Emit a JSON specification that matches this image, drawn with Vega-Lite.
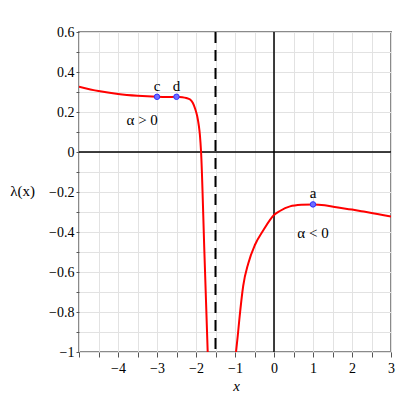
{
  "$schema": "https://vega.github.io/schema/vega-lite/v6.json",
  "autosize": "none",
  "width": 312,
  "height": 320,
  "padding": {"left": 79, "top": 32, "right": 9, "bottom": 48},
  "background": "white",
  "config": {
    "view": {"stroke": "#8a8a8a", "strokeWidth": 2},
    "font": "Liberation Serif",
    "axis": {"labelFont": "Liberation Serif", "titleFont": "Liberation Serif", "labelColor": "#000", "titleColor": "#000", "titleFontWeight": "normal"}
  },
  "datasets": {
    "curve": [
      {"branch": "L", "x": -5.0, "y": 0.327},
      {"branch": "L", "x": -4.5, "y": 0.305},
      {"branch": "L", "x": -4.0, "y": 0.29},
      {"branch": "L", "x": -3.5, "y": 0.281},
      {"branch": "L", "x": -3.0, "y": 0.276},
      {"branch": "L", "x": -2.75, "y": 0.275},
      {"branch": "L", "x": -2.5, "y": 0.276},
      {"branch": "L", "x": -2.35, "y": 0.274},
      {"branch": "L", "x": -2.25, "y": 0.27},
      {"branch": "L", "x": -2.15, "y": 0.262},
      {"branch": "L", "x": -2.08, "y": 0.245},
      {"branch": "L", "x": -2.02, "y": 0.215},
      {"branch": "L", "x": -1.97, "y": 0.18},
      {"branch": "L", "x": -1.93, "y": 0.135},
      {"branch": "L", "x": -1.9, "y": 0.085},
      {"branch": "L", "x": -1.87, "y": 0.0},
      {"branch": "L", "x": -1.785, "y": -0.5},
      {"branch": "L", "x": -1.70, "y": -1.0},
      {"branch": "R", "x": -0.974, "y": -1.0},
      {"branch": "R", "x": -0.93, "y": -0.92},
      {"branch": "R", "x": -0.89, "y": -0.84},
      {"branch": "R", "x": -0.79, "y": -0.67},
      {"branch": "R", "x": -0.66, "y": -0.557},
      {"branch": "R", "x": -0.49, "y": -0.465},
      {"branch": "R", "x": -0.27, "y": -0.39},
      {"branch": "R", "x": 0.0, "y": -0.315},
      {"branch": "R", "x": 0.15, "y": -0.295},
      {"branch": "R", "x": 0.41, "y": -0.272},
      {"branch": "R", "x": 0.7, "y": -0.264},
      {"branch": "R", "x": 1.0, "y": -0.262},
      {"branch": "R", "x": 1.3, "y": -0.266},
      {"branch": "R", "x": 1.6, "y": -0.276},
      {"branch": "R", "x": 2.0, "y": -0.288},
      {"branch": "R", "x": 2.3, "y": -0.298},
      {"branch": "R", "x": 2.65, "y": -0.31},
      {"branch": "R", "x": 3.0, "y": -0.322}
    ],
    "pts": [
      {"name": "c", "x": -3.0, "y": 0.276},
      {"name": "d", "x": -2.5, "y": 0.276},
      {"name": "a", "x": 1.0, "y": -0.262}
    ],
    "notes": [
      {"label": "α > 0", "x": -3.38, "y": 0.16},
      {"label": "α < 0", "x": 1.0, "y": -0.407}
    ],
    "refs": [
      {"kind": "axis", "x": 0},
      {"kind": "asym", "x": -1.5}
    ],
    "hrefs": [
      {"y": 0}
    ]
  },
  "resolve": {"axis": {"x": "independent", "y": "independent"}},
  "layer": [
    {
      "data": {"name": "curve"},
      "mark": {"type": "line", "color": "#ff0000", "strokeWidth": 2, "opacity": 0},
      "encoding": {
        "detail": {"field": "branch"},
        "x": {
          "field": "x", "type": "quantitative",
          "scale": {"domain": [-5, 3], "nice": false, "zero": false},
          "axis": {
            "orient": "bottom",
            "title": "x", "titleFont": "Liberation Serif", "titleFontStyle": "italic", "titleFontSize": 15,
            "titleX": 157, "titleY": 33, "titleBaseline": "middle", "titleAlign": "center",
            "values": [-5, -4.5, -4, -3.5, -3, -2.5, -2, -1.5, -1, -0.5, 0, 0.5, 1, 1.5, 2, 2.5, 3],
            "format": "~g",
            "labelExpr": "(datum.value % 1 === 0 && datum.value > -5) ? datum.label : ''",
            "labelFont": "Liberation Serif", "labelFontSize": 14, "labelPadding": 4, "labelOverlap": false, "labelFlush": false, "labelBound": false,
            "domain": false, "tickSize": 5, "tickColor": "#555", "tickWidth": 1,
            "grid": true, "gridWidth": 1, "gridColor": "#e2e2e2",
            "encode": {"grid": {"update": {"stroke": [{"test": "datum.value % 1 === 0", "value": "#a3a3a3"}, {"value": "#e2e2e2"}]}}}
          }
        },
        "y": {
          "field": "y", "type": "quantitative",
          "scale": {"domain": [-1, 0.6], "nice": false, "zero": false},
          "axis": {
            "orient": "left",
            "title": "λ(x)", "titleFont": "Liberation Serif", "titleFontSize": 15, "titleAngle": 0,
            "titleX": -57, "titleY": 158, "titleAlign": "center", "titleBaseline": "middle",
            "values": [-1, -0.9, -0.8, -0.7, -0.6, -0.5, -0.4, -0.3, -0.2, -0.1, 0, 0.1, 0.2, 0.3, 0.4, 0.5, 0.6],
            "format": ".1~f",
            "labelExpr": "abs(round(datum.value * 10)) % 2 === 0 ? datum.label : ''",
            "labelFont": "Liberation Serif", "labelFontSize": 14, "labelPadding": 2, "labelOverlap": false, "labelFlush": false, "labelBound": false,
            "domain": false, "tickSize": 3, "tickColor": "#555", "tickWidth": 1,
            "grid": true, "gridWidth": 1, "gridColor": "#e2e2e2",
            "encode": {"grid": {"update": {"stroke": [{"test": "abs(round(datum.value * 10)) % 2 === 0", "value": "#a3a3a3"}, {"value": "#e2e2e2"}]}}}
          }
        }
      }
    },
    {
      "data": {"name": "refs"},
      "mark": {"type": "rule", "color": "#000"},
      "encoding": {
        "x": {"field": "x", "type": "quantitative", "axis": null},
        "strokeWidth": {"field": "kind", "type": "nominal", "scale": {"domain": ["axis", "asym"], "range": [1.5, 2]}, "legend": null},
        "strokeDash": {"field": "kind", "type": "nominal", "scale": {"domain": ["axis", "asym"], "range": [[1, 0], [11, 7]]}, "legend": null}
      }
    },
    {
      "data": {"name": "hrefs"},
      "mark": {"type": "rule", "color": "#000", "strokeWidth": 1.5},
      "encoding": {"y": {"field": "y", "type": "quantitative", "axis": null}}
    },
    {
      "data": {"name": "curve"},
      "mark": {"type": "line", "color": "#ff0000", "strokeWidth": 2, "interpolate": "monotone", "clip": true},
      "encoding": {
        "detail": {"field": "branch"},
        "x": {"field": "x", "type": "quantitative", "axis": null},
        "y": {"field": "y", "type": "quantitative", "axis": null}
      }
    },
    {
      "data": {"name": "pts"},
      "mark": {"type": "point", "filled": true, "size": 30, "color": "#6e6eff", "stroke": "#3030ff", "strokeWidth": 1, "opacity": 1},
      "encoding": {
        "x": {"field": "x", "type": "quantitative", "axis": null},
        "y": {"field": "y", "type": "quantitative", "axis": null}
      }
    },
    {
      "data": {"name": "pts"},
      "mark": {"type": "text", "font": "Liberation Serif", "fontSize": 15, "baseline": "alphabetic", "dy": -6, "color": "#000"},
      "encoding": {
        "x": {"field": "x", "type": "quantitative", "axis": null},
        "y": {"field": "y", "type": "quantitative", "axis": null},
        "text": {"field": "name"}
      }
    },
    {
      "data": {"name": "notes"},
      "mark": {"type": "text", "font": "Liberation Serif", "fontSize": 15, "baseline": "middle", "color": "#000"},
      "encoding": {
        "x": {"field": "x", "type": "quantitative", "axis": null},
        "y": {"field": "y", "type": "quantitative", "axis": null},
        "text": {"field": "label"}
      }
    }
  ]
}
